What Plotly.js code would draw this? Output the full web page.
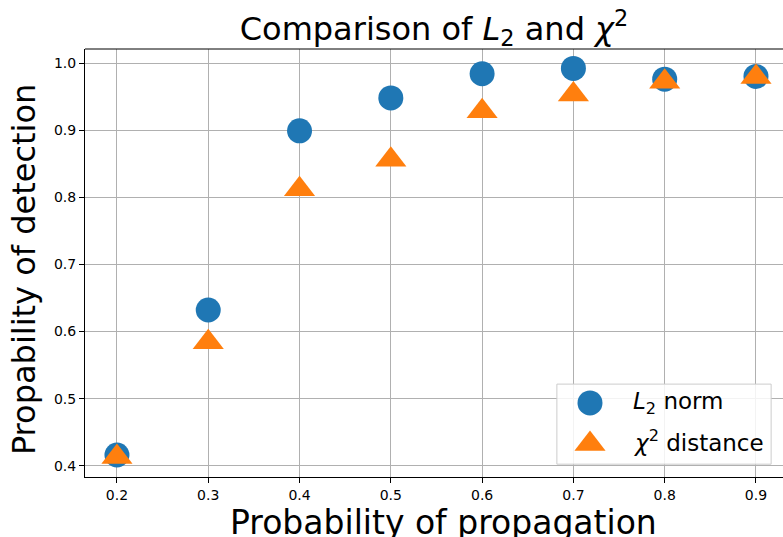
<!DOCTYPE html>
<html>
<head>
<meta charset="utf-8">
<script src="https://cdn.plot.ly/plotly-3.0.1.min.js"></script>
<style>html,body{margin:0;padding:0;background:#fff;overflow:hidden}</style>
</head>
<body>
<div id="chart" style="width:783px;height:537px"></div>
<script>
// Data
const propagation = [0.2, 0.3, 0.4, 0.5, 0.6, 0.7, 0.8, 0.9];
const l2Norm      = [0.416, 0.632, 0.899, 0.948, 0.984, 0.992, 0.976, 0.980];
const chi2Dist    = [0.413, 0.584, 0.812, 0.856, 0.928, 0.953, 0.972, 0.979];
const seriesNames = ['<i>L</i><sub>2</sub> norm', '<i>χ</i><sup>2</sup> distance'];
const xTicks = [0.2, 0.3, 0.4, 0.5, 0.6, 0.7, 0.8, 0.9];
const yTicks = [0.4, 0.5, 0.6, 0.7, 0.8, 0.9, 1.0];
const xLabel = 'Probability of propagation';
const yLabel = 'Propability of detection';

const BLUE = '#1f77b4', ORANGE = '#ff7f0e';
const FONT = 'DejaVu Sans, sans-serif';

const traces = [
  {x: propagation, y: l2Norm, type: 'scatter', mode: 'markers', name: seriesNames[0],
   marker: {symbol: 'circle', size: 25, color: BLUE, line: {width: 0}}, showlegend: false},
  {x: propagation, y: chi2Dist, type: 'scatter', mode: 'markers', name: seriesNames[1],
   marker: {symbol: 'triangle-up', size: 27, color: ORANGE, line: {width: 0}}, showlegend: false},
  // legend swatches drawn on an overlay axis (0..1)
  {x: [0.7235], y: [0.173], xaxis: 'x2', yaxis: 'y2', type: 'scatter', mode: 'markers',
   marker: {symbol: 'circle', size: 25, color: BLUE}, showlegend: false, hoverinfo: 'skip'},
  {x: [0.7235], y: [0.077], xaxis: 'x2', yaxis: 'y2', type: 'scatter', mode: 'markers',
   marker: {symbol: 'triangle-up', size: 27, color: ORANGE}, showlegend: false, hoverinfo: 'skip'}
];

const layout = {
  width: 783, height: 537,
  margin: {l: 85, r: 0, t: 49, b: 60},
  paper_bgcolor: '#fff', plot_bgcolor: '#fff',
  font: {family: FONT, color: '#000'},
  title: {
    text: 'Comparison of <i>L</i><sub>2</sub> and <i>χ</i><sup>2</sup>',
    font: {family: FONT, size: 32, color: '#000'},
    x: 0.5, xref: 'paper', xanchor: 'center',
    y: 0.947, yref: 'container', yanchor: 'middle'
  },
  xaxis: {
    range: [0.165, 0.9296],
    tickvals: xTicks, ticktext: xTicks.map(v => v.toFixed(1)),
    ticks: 'outside', ticklen: 5, tickwidth: 1, tickcolor: '#000',
    tickfont: {family: FONT, size: 14, color: '#000'},
    showgrid: true, gridcolor: '#b0b0b0', gridwidth: 1,
    showline: true, linecolor: '#000', linewidth: 1, mirror: false,
    zeroline: false
  },
  yaxis: {
    range: [0.3832, 1.0209],
    tickvals: yTicks, ticktext: yTicks.map(v => v.toFixed(1)),
    ticks: 'outside', ticklen: 5, tickwidth: 1, tickcolor: '#000',
    tickfont: {family: FONT, size: 14, color: '#000'},
    showgrid: true, gridcolor: '#b0b0b0', gridwidth: 1,
    showline: true, linecolor: '#000', linewidth: 1, mirror: false,
    zeroline: false
  },
  xaxis2: {overlaying: 'x', range: [0, 1], visible: false, fixedrange: true},
  yaxis2: {overlaying: 'y', range: [0, 1], visible: false, fixedrange: true},
  shapes: [
    // top spine
    {type: 'line', xref: 'paper', yref: 'paper', x0: 0, x1: 1, y0: 1, y1: 1,
     line: {color: '#000', width: 1}, layer: 'above'},
    // legend frame (placed in the main plot, below the traces, above the grid)
    {type: 'rect', xref: 'x', yref: 'y', x0: 0.6819, x1: 0.9166, y0: 0.4023, y1: 0.5216,
     fillcolor: 'rgba(255,255,255,0.85)', line: {color: '#cccccc', width: 1}, layer: 'between'}
  ],
  annotations: [
    // axis titles
    {xref: 'paper', yref: 'paper', x: 0.514, y: -0.107, xanchor: 'center', yanchor: 'middle',
     text: xLabel, showarrow: false, font: {family: FONT, size: 33, color: '#000'}},
    {xref: 'paper', yref: 'paper', x: -0.087, y: 0.484, xanchor: 'center', yanchor: 'middle',
     textangle: -90, text: yLabel, showarrow: false, font: {family: FONT, size: 32, color: '#000'}},
    // legend labels
    {xref: 'x2', yref: 'y2', x: 0.782, y: 0.173, xanchor: 'left', yanchor: 'middle',
     text: seriesNames[0], showarrow: false, font: {family: FONT, size: 23, color: '#000'}},
    {xref: 'x2', yref: 'y2', x: 0.782, y: 0.084, xanchor: 'left', yanchor: 'middle',
     text: seriesNames[1], showarrow: false, font: {family: FONT, size: 23, color: '#000'}}
  ],
  showlegend: false
};

Plotly.newPlot('chart', traces, layout, {displayModeBar: false, staticPlot: true});
</script>
</body>
</html>
